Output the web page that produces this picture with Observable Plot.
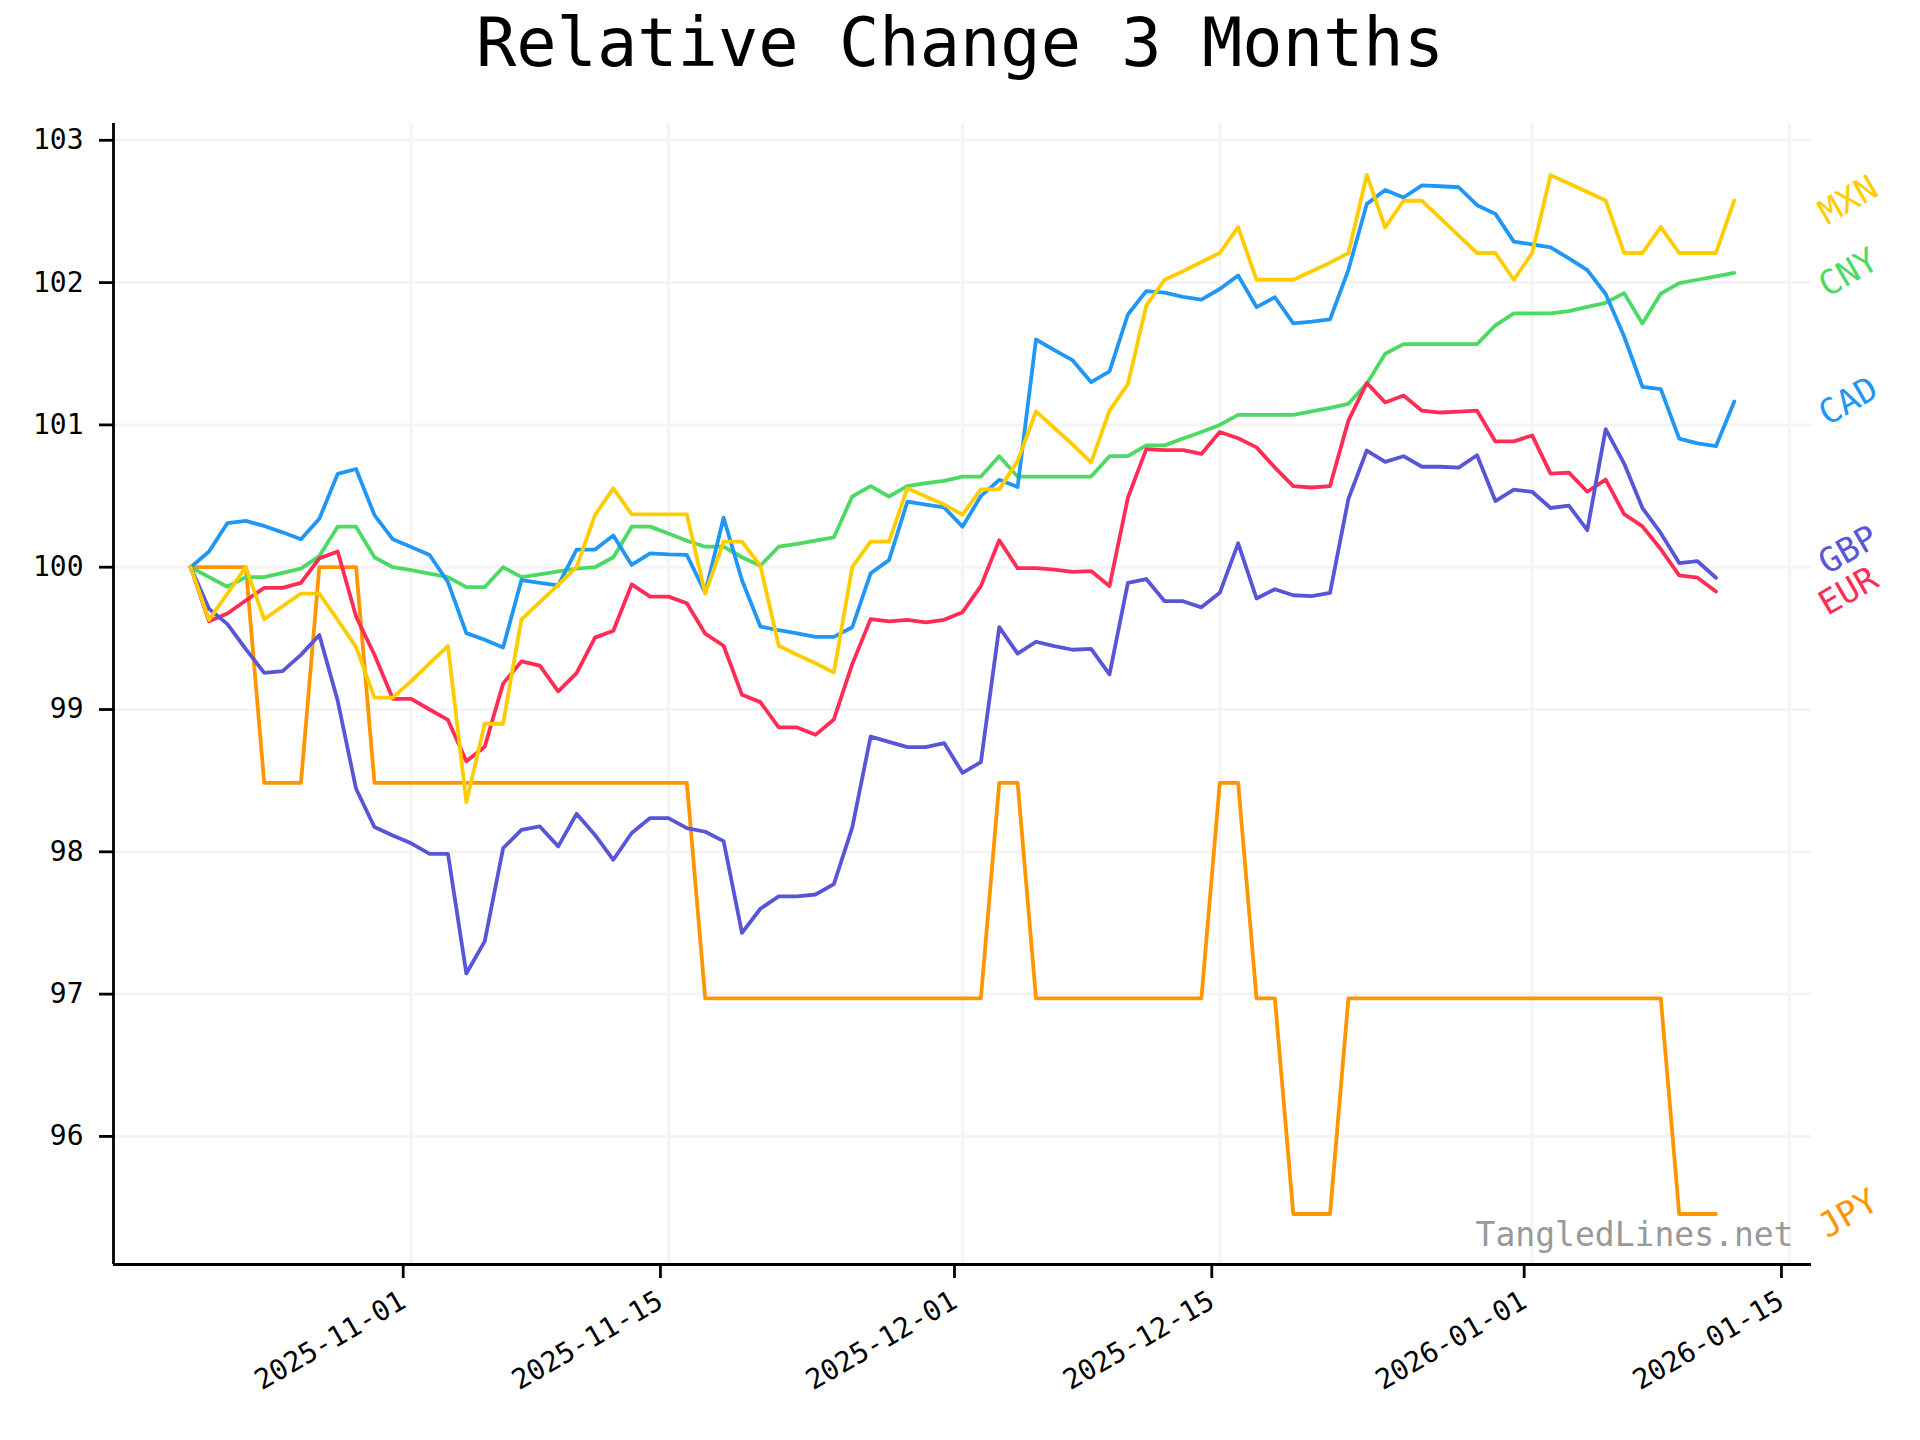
<!DOCTYPE html>
<html><head><meta charset="utf-8">
<script src="https://cdn.jsdelivr.net/npm/d3@7"></script>
<script src="https://cdn.jsdelivr.net/npm/@observablehq/plot@0.6"></script>
<style>
body{margin:0;background:#fff;}
#title{font-family:"DejaVu Sans Mono",monospace;font-size:67px;height:86px;line-height:86px;text-align:center;width:1920px;color:#000;white-space:pre;}
</style></head><body>
<div id="title">Relative Change 3 Months</div>
<div id="chart"></div>
<script>
const startDate = "2025-10-20";
const currencies = ["JPY","CNY","CAD","EUR","GBP","MXN"];
const seriesColors = ["#FF9500","#4CD964","#2196F3","#FF2D55","#5856D6","#FFCC00"];

const cad = [100,100.11,100.31,100.325,100.29,100.245,100.196,100.34,100.656,100.69,
100.366,100.196,100.142,100.086,99.895,99.537,99.49,99.435,99.91,99.89,
99.873,100.124,100.124,100.223,100.016,100.097,100.09,100.086,99.82,100.348,
99.908,99.583,99.557,99.535,99.51,99.51,99.578,99.957,100.05,100.46,
100.44,100.42,100.285,100.5,100.614,100.564,101.6,101.526,101.453,101.30,
101.376,101.776,101.94,101.93,101.90,101.88,101.955,102.05,101.828,101.897,
101.713,101.725,101.741,102.09,102.552,102.651,102.598,102.683,102.677,102.67,
102.544,102.483,102.288,102.268,102.247,102.17,102.088,101.92,101.623,101.268,
101.252,100.903,100.87,100.85,101.165];

const cny = [100,99.93,99.863,99.93,99.93,99.96,99.99,100.078,100.285,100.285,
100.07,100.0,99.98,99.955,99.93,99.86,99.86,100.0,99.93,99.95,
99.97,99.99,100.0,100.07,100.285,100.285,100.237,100.186,100.144,100.144,
100.07,100.01,100.144,100.164,100.187,100.21,100.497,100.57,100.497,100.57,
100.59,100.606,100.637,100.637,100.78,100.637,100.637,100.637,100.637,100.637,
100.78,100.78,100.856,100.856,100.905,100.95,101.0,101.07,101.07,101.07,
101.07,101.095,101.12,101.148,101.29,101.5,101.568,101.568,101.568,101.568,
101.568,101.70,101.784,101.784,101.784,101.8,101.83,101.858,101.926,101.713,
101.923,101.997,102.02,102.044,102.068];

const mxn = [100,99.63,99.815,100,99.634,99.726,99.815,99.815,99.63,99.438,
99.083,99.083,99.2,99.325,99.446,98.348,98.9,98.9,99.634,99.755,
99.876,100.0,100.366,100.554,100.371,100.371,100.371,100.371,99.814,100.18,
100.18,100.01,99.448,99.385,99.325,99.26,100.0,100.18,100.18,100.555,
100.497,100.44,100.37,100.547,100.547,100.746,101.095,100.978,100.862,100.736,
101.1,101.287,101.838,102.02,102.08,102.145,102.208,102.39,102.02,102.02,
102.02,102.08,102.14,102.208,102.757,102.388,102.575,102.575,102.453,102.33,
102.208,102.208,102.02,102.208,102.755,102.696,102.637,102.577,102.208,102.208,
102.39,102.208,102.208,102.208,102.577];

const eur = [100,99.62,99.675,99.766,99.855,99.855,99.89,100.062,100.11,99.653,
99.385,99.075,99.075,99.0,98.927,98.636,98.738,99.182,99.338,99.308,
99.128,99.255,99.505,99.553,99.879,99.793,99.793,99.747,99.533,99.448,
99.103,99.052,98.874,98.874,98.822,98.93,99.319,99.635,99.62,99.63,
99.612,99.63,99.684,99.867,100.19,99.993,99.993,99.983,99.967,99.973,
99.867,100.488,100.83,100.823,100.823,100.796,100.95,100.906,100.842,100.7,
100.57,100.56,100.57,101.03,101.294,101.158,101.206,101.1,101.087,101.094,
101.1,100.884,100.884,100.926,100.658,100.665,100.53,100.616,100.374,100.287,
100.126,99.942,99.926,99.829];

const gbp = [100,99.707,99.6,99.424,99.258,99.27,99.384,99.524,99.061,98.443,
98.174,98.115,98.06,97.986,97.986,97.145,97.371,98.025,98.154,98.178,
98.038,98.267,98.119,97.944,98.132,98.237,98.237,98.167,98.141,98.075,
97.431,97.6,97.687,97.687,97.7,97.773,98.17,98.81,98.773,98.736,
98.736,98.764,98.555,98.63,99.579,99.393,99.476,99.446,99.42,99.426,
99.247,99.89,99.917,99.761,99.761,99.718,99.82,100.168,99.78,99.845,
99.803,99.797,99.82,100.48,100.82,100.74,100.78,100.706,100.706,100.7,
100.787,100.465,100.545,100.53,100.416,100.432,100.26,100.97,100.73,100.416,
100.239,100.029,100.042,99.926];

const jpy = [100,100,100,100,98.485,98.485,98.485,100,100,100,
98.485,98.485,98.485,98.485,98.485,98.485,98.485,98.485,98.485,98.485,
98.485,98.485,98.485,98.485,98.485,98.485,98.485,98.485,96.97,96.97,
96.97,96.97,96.97,96.97,96.97,96.97,96.97,96.97,96.97,96.97,
96.97,96.97,96.97,96.97,98.485,98.485,96.97,96.97,96.97,96.97,
96.97,96.97,96.97,96.97,96.97,96.97,98.485,98.485,96.97,96.97,
95.455,95.455,95.455,96.97,96.97,96.97,96.97,96.97,96.97,96.97,
96.97,96.97,96.97,96.97,96.97,96.97,96.97,96.97,96.97,96.97,
96.97,95.455,95.455,95.455];

const yTicks = [96,97,98,99,100,101,102,103];
const xTickLabels = ["2025-11-01","2025-11-15","2025-12-01","2025-12-15","2026-01-01","2026-01-15"];
const xDomainIso = ["2025-10-15T19:12:00Z","2026-01-16T04:48:00Z"];
const yDomain = [95.10, 103.118];
const watermark = "TangledLines.net";

const seriesValues = {JPY: jpy, CNY: cny, CAD: cad, EUR: eur, GBP: gbp, MXN: mxn};
const start = new Date(startDate + "T00:00:00Z");
const rows = [];
for (const cur of currencies) {
  seriesValues[cur].forEach((v, i) => {
    if (v != null) rows.push({cur, date: d3.utcDay.offset(start, i), value: v});
  });
}
// end labels, nudged apart
const ends = currencies.map(cur => {
  const vals = seriesValues[cur];
  return {cur, value: vals[vals.length - 1]};
}).sort((a, b) => a.value - b.value);
const minGap = 0.29;
ends.forEach((d, i) => {
  d.labelY = d.value;
  if (i > 0 && d.labelY - ends[i - 1].labelY < minGap) d.labelY = ends[i - 1].labelY + minGap;
});

const xTicks = xTickLabels.map(s => new Date(s + "T00:00:00Z"));
const xDomain = xDomainIso.map(s => new Date(s));
const fmt = d3.utcFormat("%Y-%m-%d");

const chart = Plot.plot({
  width: 1920, height: 1354,
  marginTop: 37, marginLeft: 113, marginRight: 109, marginBottom: 176,
  style: {fontFamily: "'DejaVu Sans Mono', monospace", background: "#fff", overflow: "visible", color: "#000"},
  x: {type: "utc", domain: xDomain},
  y: {domain: yDomain},
  color: {domain: currencies, range: seriesColors},
  marks: [
    Plot.gridX(xTicks, {stroke: "#f4f4f4", strokeOpacity: 1, strokeWidth: 3}),
    Plot.gridY(yTicks, {stroke: "#f4f4f4", strokeOpacity: 1, strokeWidth: 3}),
    Plot.line(rows, {x: "date", y: "value", z: "cur", stroke: "cur", strokeWidth: 3.8, strokeLinejoin: "round"}),
    Plot.ruleX([xDomain[0]], {stroke: "#000", strokeWidth: 2.8}),
    Plot.ruleY([yDomain[0]], {stroke: "#000", strokeWidth: 2.8}),
    Plot.axisY(yTicks, {tickSize: 14, tickPadding: 16, fontSize: 28, strokeWidth: 2.8, label: null, tickFormat: d => String(d)}),
    Plot.axisX(xTicks, {tickSize: 14, tickPadding: 20, fontSize: 28, strokeWidth: 2.8, label: null, tickRotate: -30, tickFormat: fmt, dx: -8}),
    Plot.text(ends, {frameAnchor: "right", y: "labelY", text: "cur", fill: "cur", dx: 37, rotate: -30, textAnchor: "middle", lineAnchor: "middle", fontSize: 34}),
    Plot.text([watermark], {frameAnchor: "bottom-right", text: d => d, dx: -18, dy: -19, textAnchor: "end", lineAnchor: "bottom", fontSize: 33, fill: "#999"})
  ]
});
document.getElementById("chart").appendChild(chart);
</script>
</body></html>
